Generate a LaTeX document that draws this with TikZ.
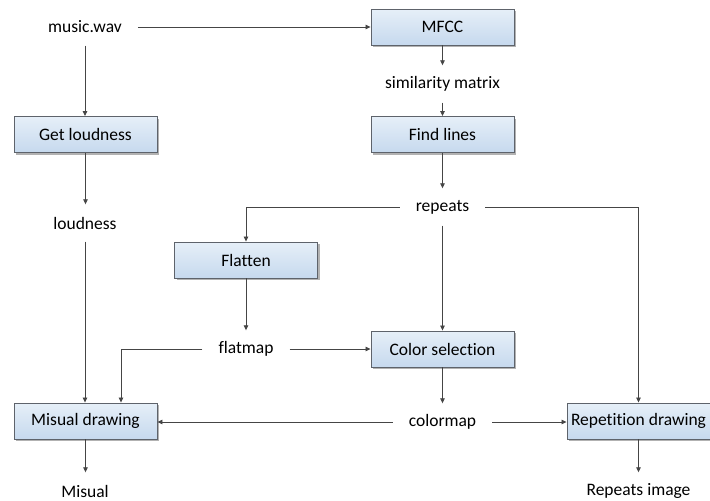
\documentclass[tikz,border=0pt]{standalone}
\usepackage{fontspec}
\setmainfont{Carlito}[Ligatures=NoCommon]
\usetikzlibrary{arrows.meta,shadows}

\definecolor{boxtop}{HTML}{E6EFF8}
\definecolor{boxbot}{HTML}{C6D9EE}
\definecolor{boxline}{HTML}{5E636B}
\definecolor{wirecol}{HTML}{454545}

\tikzset{
    stepbox/.style={draw=boxline, line width=0.9pt, top color=boxtop, bottom color=boxbot,
        minimum width=143pt, minimum height=36pt, inner sep=0pt,
        font=\fontsize{17.5}{20}\selectfont,
        drop shadow={shadow xshift=2pt, shadow yshift=-2pt, fill=black!30, opacity=1}},
    data/.style={minimum height=37pt, inner xsep=16pt, inner ysep=0pt,
        font=\fontsize{17.5}{20}\selectfont},
}

\begin{document}
\begin{tikzpicture}[x=1pt, y=-1pt]

    \useasboundingbox (0,0) rectangle (710,501);

    \node[data] (music) at (85,27) {music.wav};
    \node[stepbox] (mfcc) at (442.5,27) {MFCC};
    \node[data] (sim) at (442.5,84) {similarity matrix};
    \node[stepbox] (find) at (442.5,134.5) {Find lines};
    \node[data] (repeats) at (442.5,207) {repeats};

    \node[stepbox] (getloud) at (85.5,134.5) {Get loudness};
    \node[data] (loudness) at (85,223) {loudness};

    \node[stepbox] (flatten) at (246,260) {Flatten};
    \node[data] (flatmap) at (246,349) {flatmap};
    \node[stepbox] (colorsel) at (442.5,349) {Color selection};
    \node[data] (colormap) at (442.5,422) {colormap};

    \node[stepbox] (misdraw) at (85.5,421) {Misual drawing};
    \node[stepbox] (repdraw) at (638.5,421) {Repetition drawing};
    \node[data] (misual) at (85,491) {Misual};
    \node[data] (repimg) at (638.5,491) {Repeats image};

    \begin{scope}[>={Triangle[length=5pt,width=4.5pt]}, draw=wirecol, line width=0.8pt]
        \draw [->] (music.east) -- (mfcc.west);
        \draw [->] (music.south) -- (music.south |- getloud.north);
        \draw [->] (mfcc.south) -- (sim.north);
        \draw [->] (sim.south) -- (find.north);
        \draw [->] (find.south) -- (repeats.north);

        \draw [->] (getloud.south) -- (getloud.south |- loudness.north);
        \draw [->] (loudness.south) -- (loudness.south |- misdraw.north);

        \draw [->] (repeats.west) -| (flatten.north);
        \draw [->] (repeats.south) -- (colorsel.north);
        \draw [->] (repeats.east) -| (repdraw.north);

        \draw [->] (flatten.south) -- (flatmap.north);
        \draw [->] (flatmap.west) -| ([xshift=35.5pt]misdraw.north);
        \draw [->] (flatmap.east) -- (colorsel.west);
        \draw [->] (colorsel.south) -- (colormap.north);

        \draw [->] (colormap.west) -- (colormap.west -| misdraw.east);
        \draw [->] (colormap.east) -- (colormap.east -| repdraw.west);
        \draw [->] (misdraw.south) -- (misdraw.south |- misual.north);
        \draw [->] (repdraw.south) -- (repimg.north);
    \end{scope}

\end{tikzpicture}
\end{document}
